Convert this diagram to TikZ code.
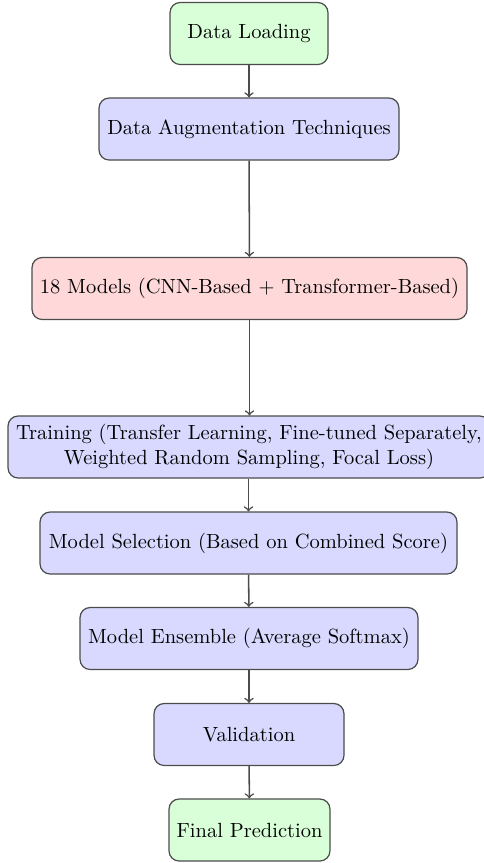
\documentclass[tikz,border=0pt]{standalone}
\newdimen\upx
\upx=0.4926pt
\begin{document}
\begin{tikzpicture}[x=\upx,y=-\upx,
  box/.style={draw=black!70, semithick, rounded corners=5pt, inner sep=0pt, align=center, minimum height=62\upx, font=\fontsize{10.1}{12.3}\selectfont},
  gbox/.style={box, fill=green!15},
  bbox/.style={box, fill=blue!15},
  rbox/.style={box, fill=red!15},
  arr/.style={->, draw=black!70, line width=0.75pt}]
\useasboundingbox (0,0) rectangle (484,863);
\node[gbox, minimum width=158\upx] (load) at (249,33.5) {Data Loading};
\node[bbox, minimum width=300\upx] (aug) at (249,129) {Data Augmentation Techniques};
\node[rbox, minimum width=435\upx] (models) at (249.5,288.5) {18 Models (CNN-Based + Transformer-Based)};
\node[bbox, minimum width=482\upx] (train) at (249,447) {Training (Transfer Learning, Fine-tuned Separately,\\ Weighted Random Sampling, Focal Loss)};
\node[bbox, minimum width=417\upx] (sel) at (248.5,543) {Model Selection (Based on Combined Score)};
\node[bbox, minimum width=338\upx] (ens) at (249,638.5) {Model Ensemble (Average Softmax)};
\node[bbox, minimum width=190\upx] (val) at (249,734.5) {Validation};
\node[gbox, minimum width=161\upx] (final) at (249.5,830) {Final Prediction};
\draw[arr] (load) -- (aug);
\draw[arr] (aug) -- (models);
\draw[arr] (models) -- (models.south |- train.north);
\draw[arr] (train.south -| sel.north) -- (sel);
\draw[arr] (sel) -- (ens);
\draw[arr] (ens) -- (val);
\draw[arr] (val) -- (final);
\end{tikzpicture}
\end{document}
